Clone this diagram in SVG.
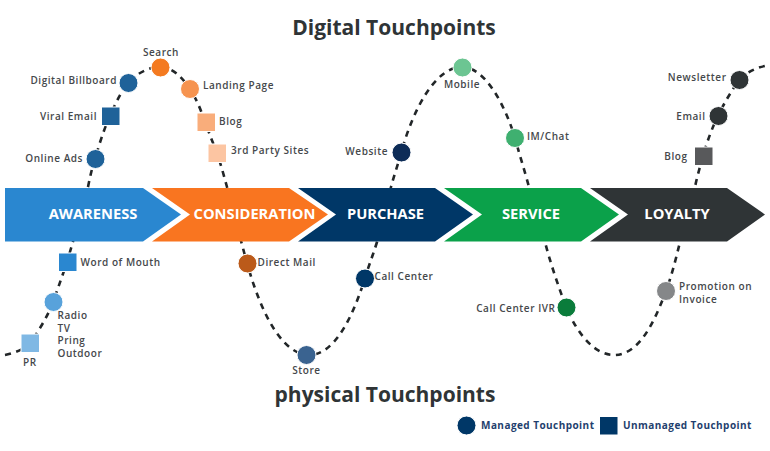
<svg xmlns="http://www.w3.org/2000/svg" width="770" height="451" viewBox="0 0 770 451">
<style>
text{font-family:"Open Sans","Liberation Sans",sans-serif}
.t{font-size:21px;font-weight:700;fill:#2f3436;text-anchor:middle}
.s{font-size:14.700px;font-weight:700;fill:#fff;text-anchor:middle}
.l{font-size:10px;font-weight:600;fill:#45484b;letter-spacing:.55px}
.e{text-anchor:end}
.m{text-anchor:middle}
.g{font-size:10px;font-weight:700;fill:#1f3f6e;letter-spacing:.45px}
.n{stroke:#fff;stroke-width:1}
#curve{fill:none;stroke:#222628;stroke-width:2.600;stroke-dasharray:6 5.500}
</style>
<rect width="770" height="451" fill="#fff"/>
<text class="t" x="394" y="35">Digital Touchpoints</text>
<text class="t" x="385" y="402">physical Touchpoints</text>
<g id="connectors">
<path id="curve" d="M5,355 C15,353 25,349 30,343 C38,332 48,316 53,302 C58,288 62,277 67,262 C75,235 82,210 88,187 C90,177 92,168 95,159 C99,145 104,129 110,116 C115,105 120,93 128,83 C136,74 148,67 160,67 C172,67 182,77 190,89 C196,98 201,110 205,122 C209,133 213,143 217,153 C221,165 224,176 227,187 C232,205 236,222 241,241 C243,248 245,256 247,263 C256,295 275,350 306,355 C336,358 355,310 365,278 C370,262 373,255 377,242 C382,225 386,205 391,187 C394,176 398,164 401,153 C413,110 435,67 462,67 C485,67 505,105 515,138 C519,153 525,172 529,187 C534,205 540,225 545,242 C550,262 558,285 566,307 C578,335 595,355 614,355 C640,355 655,320 666,291 C672,275 676,258 680,242 C685,225 690,205 695,187 C697,177 700,167 703,156 C707,142 712,128 718,116 C724,103 731,92 739,80 C746,73 755,68 765,66"/>
</g>
<g id="awareness"><path fill="#2a87d0" d="M5,188H143L181,214.500L143,241.500H5Z"/><text class="s" x="93" y="219">AWARENESS</text></g>
<g id="consideration"><path fill="#f97520" d="M152,188H289L328,214.500L289,241.500H152L190,214.500Z"/><text class="s" x="254.500" y="219">CONSIDERATION</text></g>
<g id="purchase"><path fill="#003767" d="M298,188H435L473,214.500L435,241.500H298L336,214.500Z"/><text class="s" x="385.500" y="219">PURCHASE</text></g>
<g id="service"><path fill="#0ba14a" d="M444,188H581L619,214.500L581,241.500H444L482,214.500Z"/><text class="s" x="531" y="219">SERVICE</text></g>
<g id="loyalty"><path fill="#2f3436" d="M590,188H727L765,214.500L727,241.500H590L628,214.500Z"/><text class="s" x="677" y="219">LOYALTY</text></g>
<g id="search"><circle class="n" cx="160.500" cy="67.500" r="9.500" fill="#f47a20"/><text class="l m" x="161" y="56">Search</text></g>
<g id="digital-billboard"><circle class="n" cx="128.500" cy="83" r="9.500" fill="#1f6299"/><text class="l e" x="117" y="84">Digital Billboard</text></g>
<g id="viral-email"><rect class="n" x="101.500" y="107" width="18.500" height="18.500" fill="#1f6299"/><text class="l e" x="97" y="120">Viral Email</text></g>
<g id="online-ads"><circle class="n" cx="95.500" cy="159" r="9.500" fill="#1f6299"/><text class="l e" x="83" y="162">Online Ads</text></g>
<g id="landing-page"><circle class="n" cx="190" cy="89" r="9.500" fill="#f6934f"/><text class="l" x="203" y="89">Landing Page</text></g>
<g id="blog-1"><rect class="n" x="197" y="113" width="18.500" height="18.500" fill="#f9ad7b"/><text class="l" x="219" y="125">Blog</text></g>
<g id="third-party"><rect class="n" x="208" y="144" width="18.500" height="18.500" fill="#fcc5a2"/><text class="l" x="231" y="154">3rd Party Sites</text></g>
<g id="word-of-mouth"><rect class="n" x="58.500" y="253" width="18.500" height="18.500" fill="#2a87d0"/><text class="l" x="80.500" y="266">Word of Mouth</text></g>
<g id="radio"><circle class="n" cx="53.500" cy="302" r="9.500" fill="#58a2db"/><text class="l" x="57.500" y="319">Radio</text><text class="l" x="57.500" y="331.500">TV</text><text class="l" x="57.500" y="344">Pring</text><text class="l" x="57.500" y="356.500">Outdoor</text></g>
<g id="pr"><rect class="n" x="21" y="334" width="18.500" height="18.500" fill="#7fb8e4"/><text class="l" x="23" y="366">PR</text></g>
<g id="direct-mail"><circle class="n" cx="247.500" cy="263.500" r="9.500" fill="#bb5a1a"/><text class="l" x="257.500" y="265.500">Direct Mail</text></g>
<g id="store"><circle class="n" cx="306.500" cy="355" r="9.500" fill="#3a6390"/><text class="l m" x="306.500" y="374">Store</text></g>
<g id="call-center"><circle class="n" cx="365" cy="278.500" r="9.500" fill="#003767"/><text class="l" x="374.500" y="280">Call Center</text></g>
<g id="website"><circle class="n" cx="401.500" cy="152.500" r="9.500" fill="#0d2c57"/><text class="l e" x="388" y="155">Website</text></g>
<g id="mobile"><circle class="n" cx="462.500" cy="67.500" r="9.500" fill="#6cc592"/><text class="l m" x="462" y="88">Mobile</text></g>
<g id="im-chat"><circle class="n" cx="515" cy="138" r="9.500" fill="#3fb070"/><text class="l" x="527" y="140">IM/Chat</text></g>
<g id="call-center-ivr"><circle class="n" cx="566.500" cy="307.500" r="9.500" fill="#0a7c3b"/><text class="l e" x="555.500" y="312">Call Center IVR</text></g>
<g id="promotion"><circle class="n" cx="666" cy="291" r="9.500" fill="#858789"/><text class="l" x="679" y="290">Promotion on</text><text class="l" x="679" y="302.500">Invoice</text></g>
<g id="blog-2"><rect class="n" x="694.500" y="147" width="18.500" height="18.500" fill="#58595b"/><text class="l e" x="687.500" y="160">Blog</text></g>
<g id="email"><circle class="n" cx="718.500" cy="116" r="9.500" fill="#2f3436"/><text class="l e" x="705.500" y="120">Email</text></g>
<g id="newsletter"><circle class="n" cx="739.500" cy="80" r="9.500" fill="#2f3436"/><text class="l e" x="726.500" y="81">Newsletter</text></g>
<g id="legend">
<circle class="n" cx="466.500" cy="425.500" r="9.500" fill="#003767"/><text class="g" x="481" y="429">Managed Touchpoint</text>
<rect class="n" x="599.500" y="416.500" width="18.500" height="18.500" fill="#003767"/><text class="g" x="623" y="429">Unmanaged Touchpoint</text>
</g>
</svg>
